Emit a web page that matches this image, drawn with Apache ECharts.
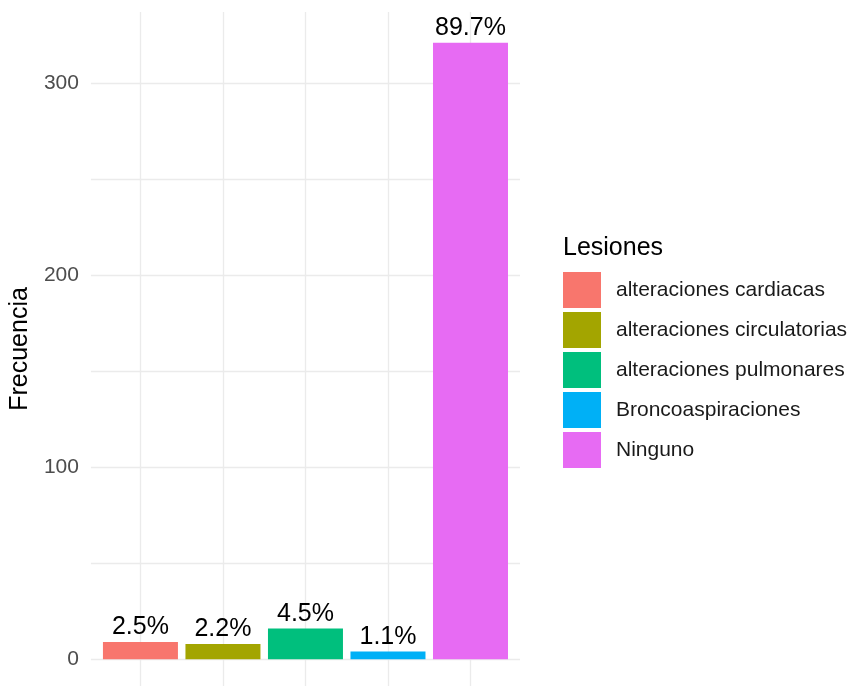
<!DOCTYPE html>
<html>
<head>
<meta charset="utf-8">
<script src="https://cdn.jsdelivr.net/npm/echarts@6/dist/echarts.min.js"></script>
<style>
html,body{margin:0;padding:0;background:#fff;}
#chart{width:856px;height:686px;}
</style>
</head>
<body>
<div id="chart"></div>
<script>
const categories = ['alteraciones cardiacas', 'alteraciones circulatorias', 'alteraciones pulmonares', 'Broncoaspiraciones', 'Ninguno'];
const positions = [1, 2, 3, 4, 5];
const values = [9, 8, 16, 4, 321];
const pctLabels = ['2.5%', '2.2%', '4.5%', '1.1%', '89.7%'];
const colors = ['#F8766D', '#A3A500', '#00BF7D', '#00B0F6', '#E76BF3'];
const yTickLabels = ['0', '100', '200', '300'];

const FONT = "'Liberation Sans', Arial, sans-serif";
const chart = echarts.init(document.getElementById('chart'), null, {renderer: 'canvas'});

const series = categories.map((c, i) => ({
  name: c,
  type: 'bar',
  barWidth: 75,
  barGap: '-100%',
  data: [[positions[i], values[i]]],
  itemStyle: {color: colors[i]},
  label: {
    show: true,
    position: 'top',
    distance: 2,
    formatter: pctLabels[i],
    fontFamily: FONT,
    fontSize: 25,
    color: '#000000'
  },
  emphasis: {disabled: true}
}));

chart.setOption({
  animation: false,
  backgroundColor: '#ffffff',
  textStyle: {fontFamily: FONT},
  title: {
    text: 'Lesiones',
    left: 563,
    top: 236,
    padding: 0,
    textStyle: {fontFamily: FONT, fontSize: 25, fontWeight: 'normal', color: '#000000', lineHeight: 25}
  },
  legend: {
    orient: 'vertical',
    left: 563,
    top: 272,
    padding: 0,
    itemWidth: 38,
    itemHeight: 36,
    itemGap: 4,
    selectedMode: false,
    icon: 'rect',
    data: categories,
    textStyle: {fontFamily: FONT, fontSize: 21, color: '#1a1a1a', padding: [3, 0, 0, 10]}
  },
  grid: {left: 86, right: 336, top: 12, bottom: 0, containLabel: false},
  xAxis: {
    type: 'value',
    min: 0.4,
    max: 5.6,
    minInterval: 1,
    maxInterval: 1,
    axisLine: {show: false},
    axisTick: {show: false},
    axisLabel: {show: false},
    splitLine: {show: true, showMinLine: false, showMaxLine: false, lineStyle: {color: '#EBEBEB', width: 1.3}}
  },
  yAxis: {
    type: 'value',
    min: -13.9,
    max: 337.05,
    minInterval: 50,
    maxInterval: 50,
    name: 'Frecuencia',
    nameLocation: 'middle',
    nameRotate: 90,
    nameGap: 51,
    nameTextStyle: {fontFamily: FONT, fontSize: 25, color: '#000000'},
    axisLine: {show: false},
    axisTick: {show: false},
    axisLabel: {
      showMinLabel: false,
      showMaxLabel: false,
      margin: 12,
      fontFamily: FONT,
      fontSize: 21,
      color: '#4D4D4D',
      formatter: function (v) {
        const idx = yTickLabels.indexOf(String(v));
        return idx >= 0 ? yTickLabels[idx] : '';
      }
    },
    splitLine: {show: true, showMinLine: false, showMaxLine: false, lineStyle: {color: '#EBEBEB', width: 1.3}}
  },
  series: series
});
</script>
</body>
</html>
